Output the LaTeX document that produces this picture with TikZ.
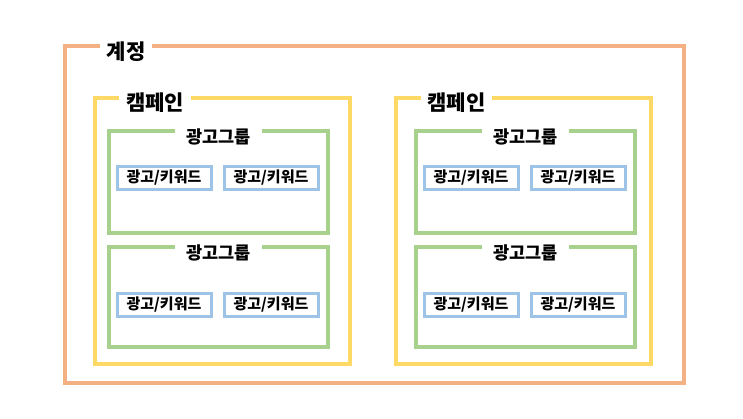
\documentclass[tikz,border=0pt]{standalone}
\usepackage{fontspec}
\setmainfont{Noto Sans CJK KR}
\usepackage{tikz}
\usetikzlibrary{calc, fit}
\usepackage{xcolor}
\definecolor{acctorange}{HTML}{F4B183}
\definecolor{campyellow}{HTML}{FFD966}
\definecolor{groupgreen}{HTML}{A9D18E}
\definecolor{adblue}{HTML}{9DC3E6}

\tikzset{
  frame/.style={draw=#1, inner sep=0pt, line width=4pt},
  tag/.style={fill=white, inner ysep=1pt, font=\bfseries},
  adbox/.style={draw=adblue, line width=3pt, minimum width=94pt,
    minimum height=23pt, inner sep=0pt, font=\bfseries\fontsize{15}{15}\selectfont}
}

\begin{document}
\begin{tikzpicture}[x=1pt, y=-1pt]
  \path[use as bounding box] (0,0) rectangle (743,418);

  % Account
  \node[frame=acctorange, fit={(65,46) (684,383)}] (acct) {};
  \node[tag, inner xsep=7pt, font=\bfseries\fontsize{21}{21}\selectfont]
    (acctlbl) at ($(acct.north west)+(63,8)$) {계정};

  % Campaigns
  \foreach \c/\cx/\gx in {L/94.5/109, R/396/416} {
    \node[frame=campyellow, fit={(\cx,98) (\cx+255,364)}] (camp\c) {};
    \node[tag, inner xsep=7pt, font=\bfseries\fontsize{21}{21}\selectfont]
      (camplbl\c) at ($(camp\c.north west)+(62.5,7)$) {캠페인};

    % Ad groups
    \foreach \g/\gt/\gb/\by in {1/131/233/178, 2/247/347/304.5} {
      \node[frame=groupgreen, fit={(\gx,\gt) (\gx+219,\gb)}] (grp\c\g) {};
      \node[tag, inner xsep=11pt, font=\bfseries\fontsize{17.5}{17.5}\selectfont]
        (grplbl\c\g) at ($(grp\c\g.north)+(0,8)$) {광고그룹};
      \node[adbox] (ad\c\g a) at (\gx+55,\by) {광고/키워드};
      \node[adbox] (ad\c\g b) at (\gx+162,\by) {광고/키워드};
    }
  }
\end{tikzpicture}
\end{document}
